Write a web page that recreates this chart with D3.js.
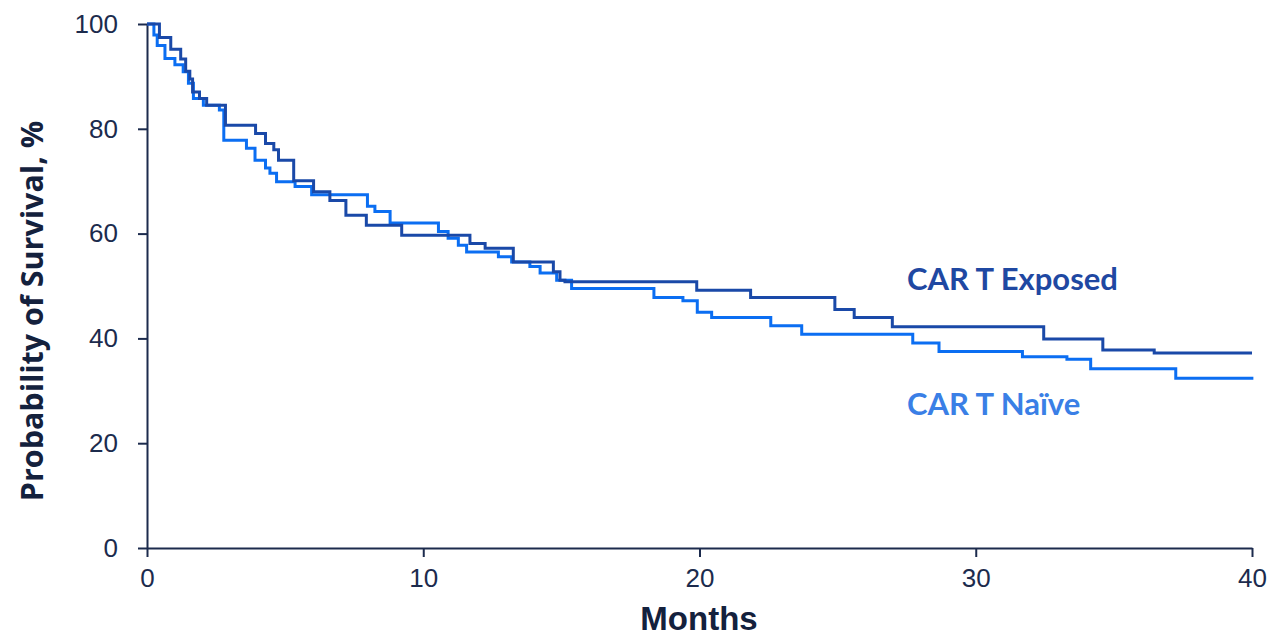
<!DOCTYPE html>
<html>
<head>
<meta charset="utf-8">
<script src="https://cdn.jsdelivr.net/npm/d3@7"></script>
<style>
  html, body { margin: 0; padding: 0; background: #ffffff; }
  svg { display: block; }
</style>
</head>
<body>
<svg id="chart" width="1274" height="640"></svg>
<script>
// ---- Data ----
const xTicks = [0, 10, 20, 30, 40];
const yTicks = [0, 20, 40, 60, 80, 100];

// CAR T Exposed: step start times (months) and survival (%)
const exposedTime = [0, 0.45, 0.86, 1.22, 1.40, 1.55, 1.65, 1.90, 2.16, 2.84, 3.93, 4.29, 4.59, 4.76, 5.31, 6.03, 6.62, 7.20, 7.94, 9.22, 11.69, 12.24, 13.26, 14.71, 14.95, 15.13, 19.90, 21.85, 24.90, 25.60, 26.98, 32.46, 34.60, 36.46, 40.0];
const exposedSurv = [100, 97.4, 95.2, 93.3, 91.0, 89.5, 87.0, 85.8, 84.5, 80.7, 79.1, 77.2, 76.0, 74.0, 70.1, 68.0, 66.3, 63.5, 61.6, 59.7, 58.1, 57.2, 54.6, 52.7, 51.1, 50.8, 49.2, 47.8, 45.5, 44.0, 42.2, 39.9, 37.8, 37.2, 37.2];

// CAR T Naive
const naiveTime = [0, 0.25, 0.37, 0.65, 1.01, 1.31, 1.50, 1.68, 2.04, 2.62, 2.78, 3.60, 3.91, 4.29, 4.45, 4.69, 5.36, 5.96, 7.98, 8.25, 8.80, 10.55, 10.90, 11.27, 11.57, 12.72, 13.20, 13.86, 14.23, 14.83, 15.37, 18.35, 19.40, 19.92, 20.44, 22.58, 23.70, 27.72, 28.67, 31.69, 33.30, 34.16, 37.24, 40.05];
const naiveSurv = [100, 97.9, 95.9, 93.4, 92.2, 90.9, 88.7, 85.8, 84.5, 83.6, 77.8, 76.3, 74.0, 72.5, 71.5, 69.9, 69.0, 67.4, 65.2, 64.2, 62.0, 60.4, 59.1, 57.8, 56.5, 55.6, 54.6, 53.7, 52.5, 51.1, 49.5, 47.8, 47.2, 45.0, 44.0, 42.4, 40.8, 39.1, 37.5, 36.5, 36.0, 34.2, 32.4, 32.4];

const seriesNames = ["CAR T Exposed", "CAR T Naïve"];

// ---- Layout ----
const axisColor = "#1c2b4d";
const darkBlue = "#1a49a8";
const lightBlue = "#0b6ef2";

const svg = d3.select("#chart");
const x = d3.scaleLinear().domain([0, 40]).range([147, 1252]);
const y = d3.scaleLinear().domain([0, 100]).range([548, 24]);

// Axes
const yAxis = svg.append("g")
  .attr("transform", `translate(${x(0)},0)`)
  .call(d3.axisLeft(y).tickValues(yTicks).tickSize(9).tickPadding(20).tickSizeOuter(0));
const xAxis = svg.append("g")
  .attr("transform", `translate(0,${y(0)})`)
  .call(d3.axisBottom(x).tickValues(xTicks).tickSize(9).tickPadding(12).tickSizeOuter(0));

[xAxis, yAxis].forEach(g => {
  g.select(".domain").attr("stroke", axisColor).attr("stroke-width", 2);
  g.selectAll(".tick line").attr("stroke", axisColor).attr("stroke-width", 2);
  g.selectAll(".tick text")
    .attr("fill", axisColor)
    .style("font-family", "'Liberation Sans', Arial, sans-serif")
    .style("font-size", "26px");
});

// Curves
const line = d3.line()
  .x(d => x(d[0]))
  .y(d => y(d[1]))
  .curve(d3.curveStepAfter);

const exposed = exposedTime.map((t, i) => [t, exposedSurv[i]]);
const naive = naiveTime.map((t, i) => [t, naiveSurv[i]]);

svg.append("path")
  .datum(naive)
  .attr("d", line)
  .attr("fill", "none")
  .attr("stroke", lightBlue)
  .attr("stroke-width", 3);

svg.append("path")
  .datum(exposed)
  .attr("d", line)
  .attr("fill", "none")
  .attr("stroke", darkBlue)
  .attr("stroke-width", 3);

// Series labels
svg.append("text")
  .attr("x", 907).attr("y", 290)
  .attr("fill", "#1f48a2")
  .style("font-family", "Lato, 'Open Sans', sans-serif")
  .style("font-weight", "bold")
  .style("font-size", "31px")
  .text(seriesNames[0]);

svg.append("text")
  .attr("x", 907).attr("y", 415)
  .attr("fill", "#3a7fe6")
  .style("font-family", "Lato, 'Open Sans', sans-serif")
  .style("font-weight", "bold")
  .style("font-size", "31px")
  .text(seriesNames[1]);

// Axis titles
svg.append("text")
  .attr("x", 699).attr("y", 630)
  .attr("text-anchor", "middle")
  .attr("fill", "#14213d")
  .style("font-family", "'Liberation Sans', Arial, sans-serif")
  .style("font-weight", "bold")
  .style("font-size", "33px")
  .text("Months");

svg.append("text")
  .attr("transform", "translate(43,311) rotate(-90)")
  .attr("text-anchor", "middle")
  .attr("fill", "#14213d")
  .style("font-family", "'Open Sans', Lato, sans-serif")
  .style("font-weight", "bold")
  .style("font-size", "30.5px")
  .text("Probability of Survival, %");
</script>
</body>
</html>
